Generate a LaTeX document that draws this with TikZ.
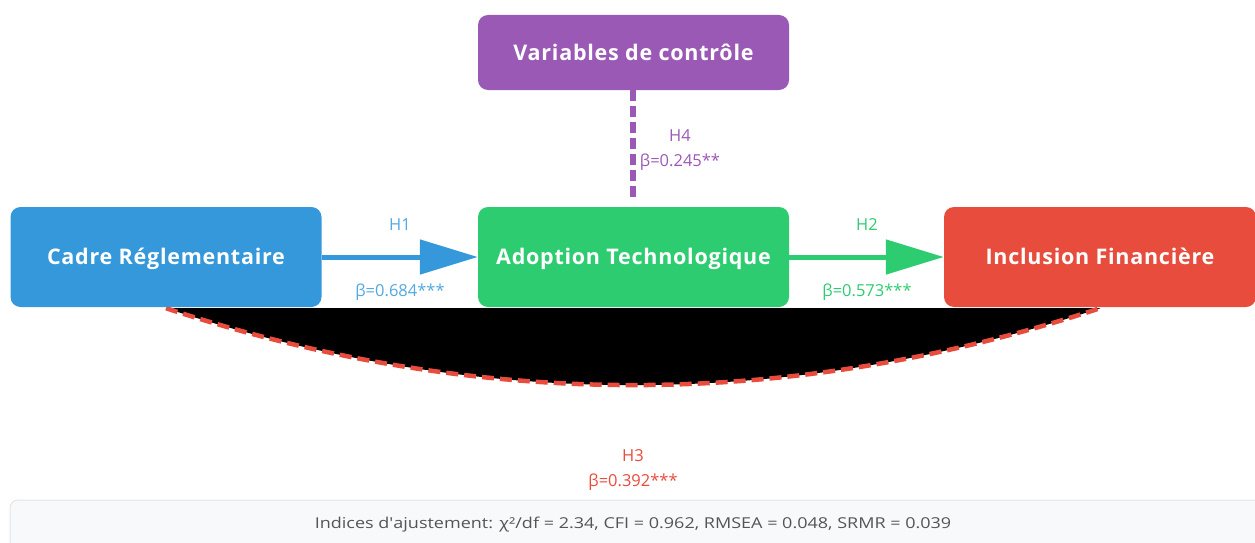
\documentclass[tikz,border=0pt]{standalone}
\usepackage{fontspec}
\setmainfont{Open Sans}
\usetikzlibrary{arrows.meta,backgrounds}
\definecolor{cblue}{HTML}{3498DB}
\definecolor{cgreen}{HTML}{2ECC71}
\definecolor{cred}{HTML}{E74C3C}
\definecolor{cpurple}{HTML}{9B59B6}
\definecolor{cgraybg}{HTML}{F8F9FA}
\definecolor{cgrayline}{HTML}{E3E5E8}
\definecolor{ctext}{HTML}{555555}
\tikzset{
  box/.style={rounded corners=10pt, minimum height=100pt, minimum width=311pt, inner sep=0pt,
    text height=19pt, text depth=4pt,
    text=white, font=\fontsize{21.5}{23}\selectfont\bfseries\addfontfeature{LetterSpace=3.5}},
  lab/.style={font=\fontsize{16.5}{18}\selectfont, inner sep=0pt},
  flow/.style={line width=5pt, -{Triangle[length=58pt,width=34pt]}},
}
\begin{document}
\begin{tikzpicture}[x=1pt,y=-1pt]
\useasboundingbox (0,0) rectangle (1255,543);
\clip (0,0) rectangle (1255,543);
\node[box, fill=cblue] (cadre) at (166,257) {Cadre Réglementaire};
\node[box, fill=cgreen] (adopt) at (633.5,257) {Adoption Technologique};
\node[box, fill=cred, minimum width=312pt] (incl) at (1100,257) {Inclusion Financière};
\node[box, fill=cpurple, minimum height=75pt] (ctrl) at (633.5,52.5) {Variables de contrôle};
\begin{scope}[on background layer]
\draw[fill=black, draw=black!40, line width=0.8pt] ([yshift=-1pt]cadre.south) -- ([yshift=-1pt]incl.south) -- cycle;
\fill[black] ([yshift=-1pt]cadre.south) .. controls (477.7,410.7) and (788.7,410.7) .. ([yshift=-1pt]incl.south) -- cycle;
\draw[cred, line width=4.5pt, dash pattern=on 12pt off 6pt] ([yshift=-1pt]cadre.south) .. controls (477.7,410.7) and (788.7,410.7) .. ([yshift=-1pt]incl.south);
\end{scope}
\draw[flow, cblue] (cadre.east) -- (adopt.west);
\draw[flow, cgreen] (adopt.east) -- (incl.west);
\coordinate (h4end) at (633,200);
\draw[cpurple, line width=6pt, dash pattern=on 11pt off 5pt] (ctrl.south -| h4end) -- (h4end);
\node[lab, text=cblue!85] (h1) at (400,225) {H1};
\node[lab, text=cblue!85] (b1) at (400,292) {β=0.684***};
\node[lab, text=cgreen] (h2) at (867,225) {H2};
\node[lab, text=cgreen] (b2) at (867,292) {β=0.573***};
\node[lab, text=cpurple] (h4) at (680,136) {H4};
\node[lab, text=cpurple] (b4) at (680,162) {β=0.245**};
\node[lab, text=cred] (h3) at (633,456) {H3};
\node[lab, text=cred] (b3) at (633,482) {β=0.392***};
\draw[rounded corners=8pt, fill=cgraybg, draw=cgrayline, line width=1pt] (10,500) rectangle (1262,560);
\node[lab, text=ctext, font=\fontsize{15}{17}\selectfont] (fit) at (633,525) {\scalebox{1.2}[1]{Indices d\textquotesingle ajustement: χ²/df = 2.34, CFI = 0.962, RMSEA = 0.048, SRMR = 0.039}};
\end{tikzpicture}
\end{document}
